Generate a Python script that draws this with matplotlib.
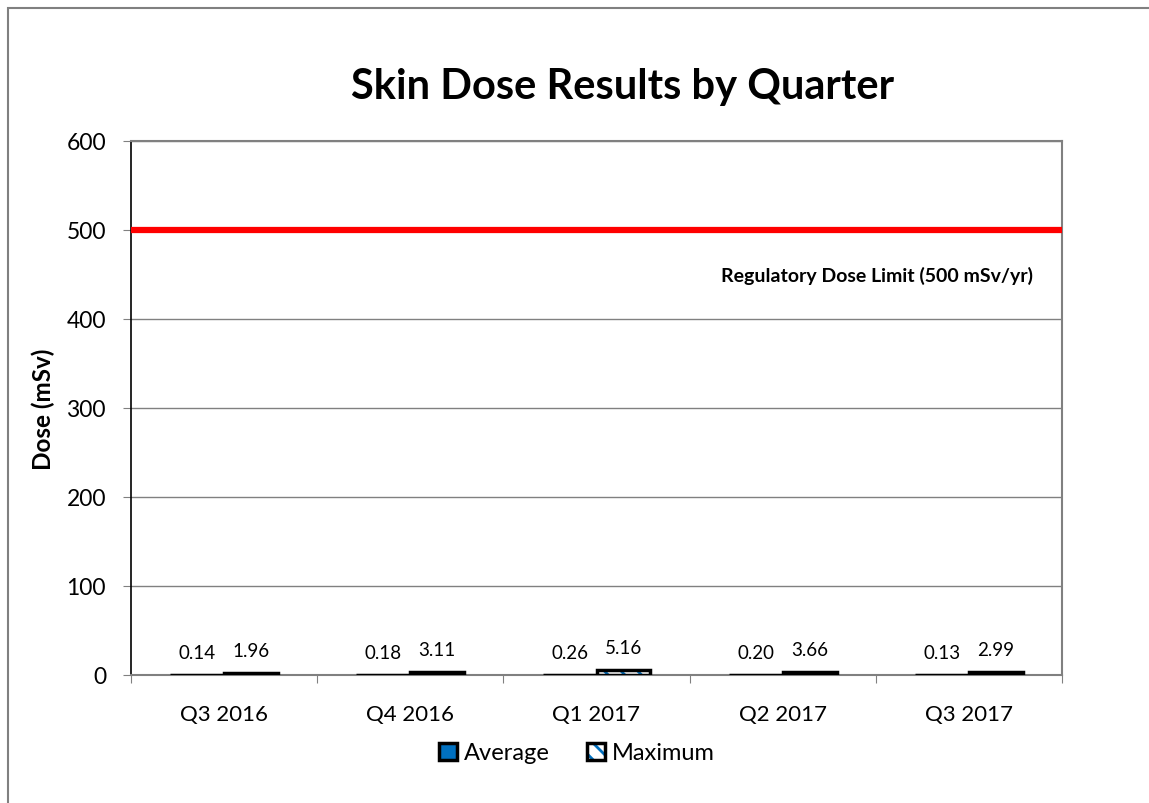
import matplotlib
matplotlib.use("Agg")
import matplotlib.pyplot as plt
import numpy as np
from matplotlib.patches import Rectangle, Patch
from matplotlib.legend_handler import HandlerTuple

plt.rcParams['font.family'] = ['Lato', 'DejaVu Sans']
plt.rcParams['hatch.linewidth'] = 2.0

categories = ["Q3 2016", "Q4 2016", "Q1 2017", "Q2 2017", "Q3 2017"]
average = [0.14, 0.18, 0.26, 0.20, 0.13]
maximum = [1.96, 3.11, 5.16, 3.66, 2.99]
limit_value = 500
limit_label = "Regulatory Dose Limit (500 mSv/yr)"

BLUE = '#0070C0'
W, H = 1149, 804
fig = plt.figure(figsize=(W / 100, H / 100), dpi=100)
ax = fig.add_axes([131 / W, 1 - 676 / H, (1062 - 131) / W, (676 - 142) / H])

# chart area frame
fig.patches.append(Rectangle((8 / W, -0.05), 1.2, 1 - 9 / H + 0.05, transform=fig.transFigure,
                             fill=False, edgecolor='#808080', linewidth=1.5, zorder=0))

x = np.arange(len(categories))
bw = 0.29
ax.bar(x - bw / 2, average, width=bw, color=BLUE, edgecolor='black', linewidth=2.5, zorder=3)
ax.bar(x + bw / 2, maximum, width=bw, color='white', edgecolor=BLUE, linewidth=0,
       hatch='\\\\', zorder=3)
ax.bar(x + bw / 2, maximum, width=bw, fill=False, edgecolor='black', linewidth=2.5, zorder=3.5)

for xi, v in zip(x, average):
    ax.text(xi - bw / 2, v + 16, f"{v:.2f}", ha='center', va='bottom', fontsize=13.5)
for xi, v in zip(x, maximum):
    ax.text(xi + bw / 2, v + 16, f"{v:.2f}", ha='center', va='bottom', fontsize=13.5)

ax.axhline(limit_value, color='#FF0000', linewidth=4.5, zorder=4)
ax.text(4.344, 450, limit_label, ha='right', va='center', fontsize=14, fontweight='bold')

ax.set_xlim(-0.5, 4.5)
ax.set_ylim(0, 600)
ax.set_yticks(range(0, 601, 100))
ax.yaxis.grid(True, color='#808080', linewidth=1)
ax.set_axisbelow(True)
ax.set_xticks(np.arange(-0.5, 4.6, 1))
ax.set_xticklabels([])
ax.set_xticks(x, minor=True)
ax.set_xticklabels(categories, minor=True, fontsize=16)
ax.tick_params(axis='x', which='minor', length=0, pad=21)
ax.tick_params(axis='x', which='major', length=6, direction='out', color='#808080')
ax.tick_params(axis='y', length=6, direction='out', labelsize=16.5, pad=12, color='#808080')

for side in ['top', 'right', 'bottom']:
    ax.spines[side].set_color('#808080')
    ax.spines[side].set_linewidth(1.5)
ax.spines['left'].set_color('black')
ax.spines['left'].set_linewidth(1.2)

ax.set_ylabel("Dose (mSv)", fontsize=17.5, fontweight='bold', labelpad=8)
fig.text(623 / W, 1 - 87 / H, "Skin Dose Results by Quarter", ha='center', va='center',
         fontsize=30, fontweight='bold')

h_avg = Patch(facecolor=BLUE, edgecolor='black', linewidth=2.5)
h_max = (Patch(facecolor='white', edgecolor=BLUE, hatch='\\\\', linewidth=0),
         Patch(fill=False, edgecolor='black', linewidth=2.5))
leg = fig.legend([h_avg, h_max], ['Average', 'Maximum'], loc='center',
                 bbox_to_anchor=(577 / W, 1 - 754 / H), ncol=2, frameon=False,
                 fontsize=17, handlelength=0.75, handleheight=0.75, handletextpad=0.3,
                 columnspacing=1.6, handler_map={tuple: HandlerTuple(ndivide=1, pad=0)})

fig.savefig("out.png", dpi=100)
